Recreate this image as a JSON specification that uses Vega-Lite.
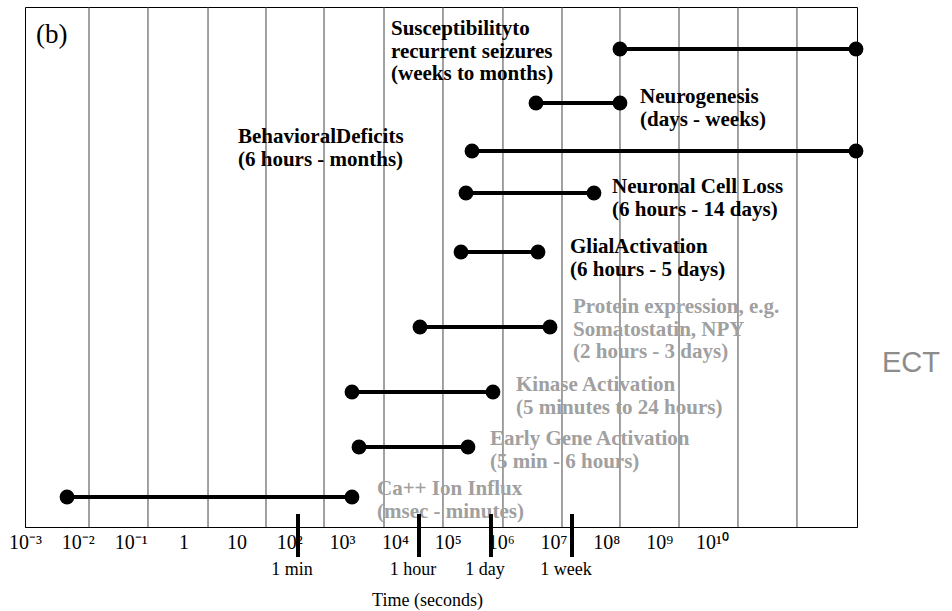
{
  "$schema": "https://vega.github.io/schema/vega-lite/v6.json",
  "width": 832,
  "height": 520,
  "autosize": {"type": "none"},
  "padding": {"left": 25, "top": 7, "right": 95, "bottom": 84},
  "background": "#ffffff",
  "config": {"view": {"stroke": "#000000", "strokeWidth": 1}, "font": "Liberation Serif"},
  "datasets": {
    "phases": [
      {"phase": "Susceptibility", "label": "Susceptibilityto\nrecurrent seizures\n(weeks to months)", "start": 8.258, "end": 12.724, "row": 11.95, "lx": 3.925, "ly": 12.725, "tone": "dark"},
      {"phase": "Neurogenesis", "label": "Neurogenesis\n(days - weeks)", "start": 6.669, "end": 8.258, "row": 10.6, "lx": 8.637, "ly": 11.025, "tone": "dark"},
      {"phase": "Behavioral", "label": "BehavioralDeficits\n(6 hours - months)", "start": 5.458, "end": 12.724, "row": 9.4, "lx": 1.03, "ly": 10.025, "tone": "dark"},
      {"phase": "Neuronal", "label": "Neuronal Cell Loss\n(6 hours - 14 days)", "start": 5.344, "end": 7.766, "row": 8.35, "lx": 8.107, "ly": 8.775, "tone": "dark"},
      {"phase": "Glial", "label": "GlialActivation\n(6 hours - 5 days)", "start": 5.25, "end": 6.707, "row": 6.875, "lx": 7.312, "ly": 7.275, "tone": "dark"},
      {"phase": "Protein", "label": "Protein expression, e.g.\nSomatostatin, NPY\n(2 hours - 3 days)", "start": 4.474, "end": 6.934, "row": 5.0, "lx": 7.369, "ly": 5.775, "tone": "gray"},
      {"phase": "Kinase", "label": "Kinase Activation\n(5 minutes to 24 hours)", "start": 3.187, "end": 5.855, "row": 3.375, "lx": 6.29, "ly": 3.825, "tone": "gray"},
      {"phase": "Early", "label": "Early Gene Activation\n(5 min - 6 hours)", "start": 3.32, "end": 5.382, "row": 2.0, "lx": 5.798, "ly": 2.475, "tone": "gray"},
      {"phase": "Ca", "label": "Ca++ Ion Influx\n(msec - minutes)", "start": -2.205, "end": 3.187, "row": 0.75, "lx": 3.66, "ly": 1.225, "tone": "gray"}
    ],
    "grid": [
      {"g": -1.789}, {"g": -0.673}, {"g": 0.463}, {"g": 1.56}, {"g": 2.658}, {"g": 3.793},
      {"g": 4.909}, {"g": 6.044}, {"g": 7.161}, {"g": 8.258}, {"g": 9.375}, {"g": 10.491}, {"g": 11.607}
    ],
    "markers": [
      {"name": "1 min", "t": 2.166},
      {"name": "1 hour", "t": 4.455},
      {"name": "1 day", "t": 5.817},
      {"name": "1 week", "t": 7.35}
    ]
  },
  "layer": [
    {
      "data": {"name": "grid"},
      "mark": {"type": "rule", "color": "#444444", "strokeWidth": 1},
      "encoding": {
        "x": {"field": "g", "type": "quantitative", "scale": {"domain": [-3, 12.743], "nice": false, "zero": false},
          "axis": {"values": [-3, -2, -1, 0, 1, 2, 3, 4, 5, 6, 7, 8, 9, 10], "grid": false, "ticks": false, "tickSize": 0, "domain": true, "domainColor": "#000000",
            "labelExpr": "['10⁻³','10⁻²','10⁻¹','1','10','10²','10³','10⁴','10⁵','10⁶','10⁷','10⁸','10⁹','10¹⁰'][datum.value+3]",
            "labelFont": "Liberation Serif", "labelFontSize": 20, "labelColor": "#000000", "labelPadding": 5, "labelFlush": false, "labelOverlap": false,
            "title": "Time (seconds)", "titleFont": "Liberation Serif", "titleFontSize": 18, "titleFontWeight": "normal", "titleColor": "#000000",
            "titleX": 402, "titleY": 73, "titleBaseline": "middle", "titleAlign": "center"}},
        "y": {"datum": 0, "type": "quantitative", "scale": {"domain": [0, 13], "nice": false, "zero": false}, "axis": null},
        "y2": {"datum": 13}
      }
    },
    {
      "data": {"name": "phases"},
      "mark": {"type": "rule", "color": "#000000", "strokeWidth": 4},
      "encoding": {
        "x": {"field": "start", "type": "quantitative"},
        "x2": {"field": "end"},
        "y": {"field": "row", "type": "quantitative"}
      }
    },
    {
      "data": {"name": "phases"},
      "mark": {"type": "circle", "color": "#000000", "opacity": 1, "size": 220},
      "encoding": {
        "x": {"field": "start", "type": "quantitative"},
        "y": {"field": "row", "type": "quantitative"}
      }
    },
    {
      "data": {"name": "phases"},
      "mark": {"type": "circle", "color": "#000000", "opacity": 1, "size": 220},
      "encoding": {
        "x": {"field": "end", "type": "quantitative"},
        "y": {"field": "row", "type": "quantitative"}
      }
    },
    {
      "data": {"name": "phases"},
      "mark": {"type": "text", "align": "left", "baseline": "top", "font": "Liberation Serif", "fontWeight": "bold", "fontSize": 21, "lineHeight": 22.5, "lineBreak": "\n"},
      "encoding": {
        "x": {"field": "lx", "type": "quantitative"},
        "y": {"field": "ly", "type": "quantitative"},
        "text": {"field": "label"},
        "color": {"field": "tone", "type": "nominal", "scale": {"domain": ["dark", "gray"], "range": ["#000000", "#a0a0a0"]}, "legend": null}
      }
    },
    {
      "data": {"name": "markers"},
      "mark": {"type": "rule", "color": "#000000", "strokeWidth": 4},
      "encoding": {
        "x": {"field": "t", "type": "quantitative"},
        "y": {"datum": 0.325, "type": "quantitative"},
        "y2": {"datum": -0.75}
      }
    },
    {
      "data": {"name": "markers"},
      "mark": {"type": "text", "align": "center", "baseline": "middle", "font": "Liberation Serif", "fontSize": 18, "color": "#000000", "dx": -6},
      "encoding": {
        "x": {"field": "t", "type": "quantitative"},
        "y": {"datum": -1.075, "type": "quantitative"},
        "text": {"field": "name"}
      }
    },
    {
      "data": {"values": [{"note": "(b)", "nx": -2.79, "ny": 12.3}]},
      "mark": {"type": "text", "align": "left", "baseline": "middle", "font": "Liberation Serif", "fontSize": 27, "color": "#000000"},
      "encoding": {
        "x": {"field": "nx", "type": "quantitative"},
        "y": {"field": "ny", "type": "quantitative"},
        "text": {"field": "note"}
      }
    },
    {
      "data": {"values": [{"note": "ECT", "nx": 13.215, "ny": 4.1}]},
      "mark": {"type": "text", "align": "left", "baseline": "middle", "font": "Liberation Sans", "fontSize": 29, "color": "#8c8c8c"},
      "encoding": {
        "x": {"field": "nx", "type": "quantitative"},
        "y": {"field": "ny", "type": "quantitative"},
        "text": {"field": "note"}
      }
    }
  ]
}
